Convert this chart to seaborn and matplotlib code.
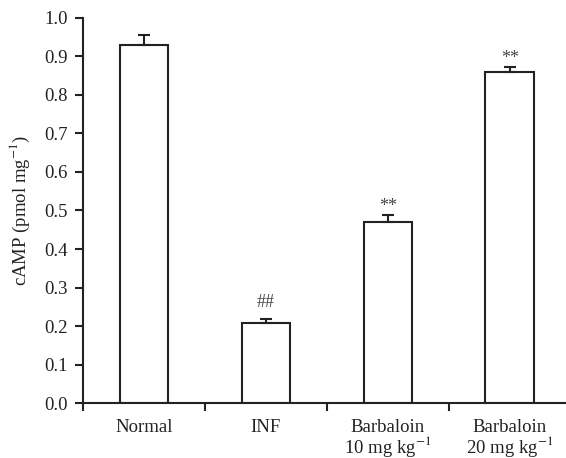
import numpy as np
import pandas as pd
import matplotlib
matplotlib.use("Agg")
import matplotlib.pyplot as plt
import seaborn as sns

# data
groups = ["Normal", "INF", "Barbaloin\n10 mg kg$^{-1}$", "Barbaloin\n20 mg kg$^{-1}$"]
camp = [0.929, 0.209, 0.469, 0.858]
camp_err = [0.026, 0.010, 0.019, 0.014]
marks = ["", "##", "**", "**"]

sns.set_style("ticks")
plt.rcParams["font.family"] = ["Liberation Serif", "DejaVu Serif"]
plt.rcParams["mathtext.fontset"] = "stix"

df = pd.DataFrame({"group": groups, "camp": camp})

fig = plt.figure(figsize=(5.66, 4.58), dpi=100)
ax = fig.add_axes([0.1466, 0.1194, 0.8534, 0.8423])

sns.barplot(data=df, x="group", y="camp", ax=ax, color="white",
            edgecolor="#222222", linewidth=1.5, width=0.4, errorbar=None)
for p in ax.patches:
    p.set_facecolor("white")

# upper-only error bars
x = np.arange(len(groups))
ax.errorbar(x, camp, yerr=[np.zeros(len(camp)), camp_err], fmt="none",
            ecolor="#222222", elinewidth=1.5, capsize=4, capthick=1.5, zorder=3)

# significance marks
for i, m in enumerate(marks):
    if not m:
        continue
    top = camp[i] + camp_err[i]
    off = 0.042 if m == "##" else 0.022
    ax.text(i, top + off, m, ha="center", va="center", fontsize=13, color="#444444")

ax.set_ylim(0, 1.0)
ax.set_xlim(-0.5, 3.46)
ax.set_yticks(np.arange(0, 1.01, 0.1))
ax.set_yticklabels([f"{v:.1f}" for v in np.arange(0, 1.01, 0.1)])

# tick marks between groups, labels under the bars
ax.set_xticks([-0.5, 0.5, 1.5, 2.5])
ax.set_xticklabels([])
ax.set_xticks(x, minor=True)
ax.set_xticklabels(groups, minor=True, linespacing=0.92)
ax.tick_params(axis="x", which="major", length=6, width=1.5, color="#222222")
ax.tick_params(axis="x", which="minor", length=0, pad=11, labelsize=13.5, labelcolor="#222222")
ax.tick_params(axis="y", length=6, width=1.5, pad=5, color="#222222", labelsize=13.5, labelcolor="#222222")

ax.set_xlabel("")
ax.set_ylabel("cAMP (pmol mg$^{-1}$)", fontsize=13.5, color="#222222")
ax.yaxis.set_label_coords(-0.105, 0.5)

sns.despine(ax=ax)
for s in ["left", "bottom"]:
    ax.spines[s].set_linewidth(1.5)
    ax.spines[s].set_color("#222222")

fig.savefig("out.png", dpi=100)
